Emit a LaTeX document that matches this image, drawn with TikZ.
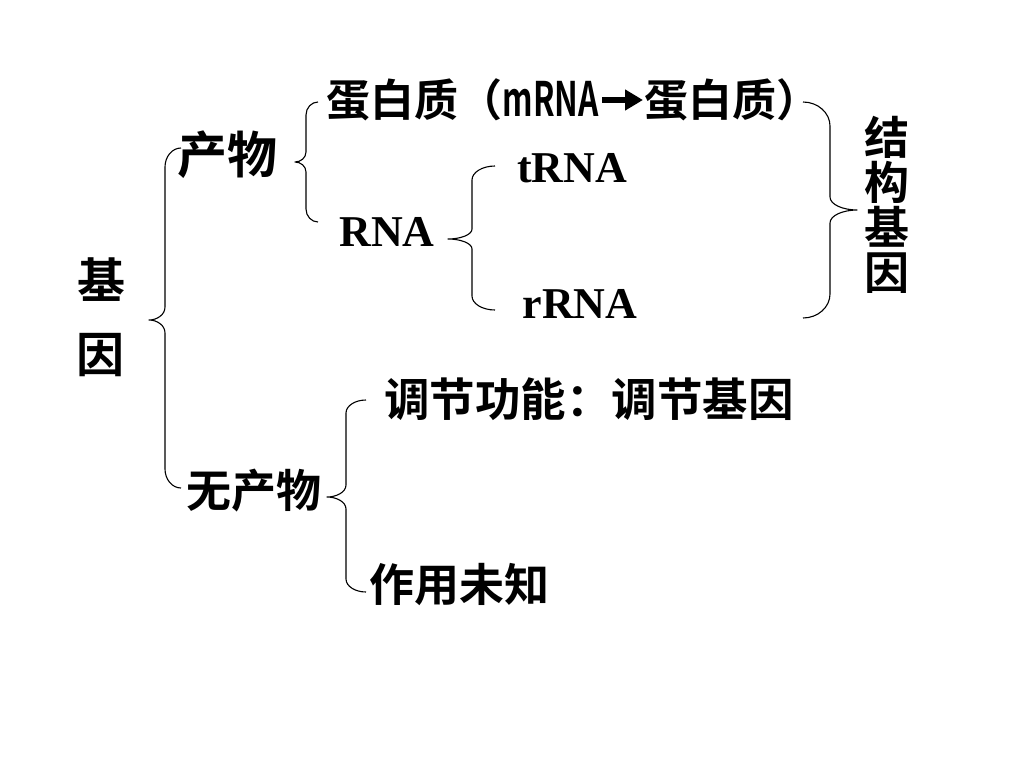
\documentclass[tikz,border=0pt]{standalone}
\usepackage{fontspec}
\usepackage{graphicx}
\usetikzlibrary{arrows.meta}
\newfontfamily\cjk{Noto Sans CJK SC}[BoldFont={Noto Sans CJK SC Bold}]
\newfontfamily\tnr{Liberation Serif}
\newcommand\cjsize[1]{\cjk\bfseries\fontsize{#1}{#1}\selectfont}
\newcommand\tnsize[1]{\tnr\bfseries\fontsize{#1}{#1}\selectfont}
\tikzset{
  bracestyle/.style={draw=black, line width=1.1pt, line join=round},
  lbl/.style={inner sep=0pt, outer sep=0pt, text=black},
  fatarrow/.style={draw=black, line width=6pt, -{Triangle[length=18pt, width=20pt]}},
}
\newcommand\mybrace[8]{%
  \draw[bracestyle] (#1,#4) .. controls ({#2+0.45*(#1-#2)},#4) and (#2,{#4+0.45*#7}) .. (#2,{#4+#7})
   -- (#2,{#5-#8}) .. controls (#2,{#5-0.4*#8}) and ({#3+0.5*(#2-#3)},#5) .. (#3,#5)
   .. controls ({#3+0.5*(#2-#3)},#5) and (#2,{#5+0.4*#8}) .. (#2,{#5+#8})
   -- (#2,{#6-#7}) .. controls (#2,{#6-0.45*#7}) and ({#2+0.45*(#1-#2)},#6) .. (#1,#6);}
\begin{document}
\begin{tikzpicture}[x=1pt,y=-1pt]
\fill[white] (0,0) rectangle (1024,768);
\useasboundingbox (0,0) rectangle (1024,768);
% texts
\node[lbl, font=\cjsize{48}] (ji) at (101,280) {基};
\node[lbl, font=\cjsize{48}] (yin) at (100,355) {因};
\node[lbl, font=\cjsize{50}] (cw) at (227,155) {产物};
\node[lbl, font=\cjsize{44}, anchor=east] (p1) at (599,100) {蛋白质（\scalebox{0.72}[1.08]{mRNA}};
\node[lbl, font=\cjsize{44}, anchor=west] (p2) at (644,100) {蛋白质）};
\draw[fatarrow] ([xshift=3pt]p1.east) -- ([xshift=-1pt]p2.west);
\node[lbl, font=\tnsize{44}] (trna) at (572,168) {tRNA};
\node[lbl, font=\tnsize{44}] (rna) at (387,232) {RNA};
\node[lbl, font=\tnsize{44}] (rrna) at (580,304) {rRNA};
\node[lbl, font=\cjsize{45}, align=center] (jg) at (887,205) {结\\构\\基\\因};
\node[lbl, font=\cjsize{45.5}] (tj) at (589,399) {调节功能：调节基因};
\node[lbl, font=\cjsize{45}] (wcw) at (254,491) {无产物};
\node[lbl, font=\cjsize{45}] (zy) at (459,585) {作用未知};
% braces
\mybrace{181}{165}{149}{148}{320}{488}{19}{13}
\mybrace{318}{306}{295}{102}{162}{222}{13}{10}
\mybrace{495}{472}{448}{166}{239}{310}{14}{10}
\mybrace{803}{830}{857}{102}{210}{318}{24}{13}
\mybrace{366}{346}{327}{400}{497}{592}{13}{12}
\end{tikzpicture}
\end{document}
